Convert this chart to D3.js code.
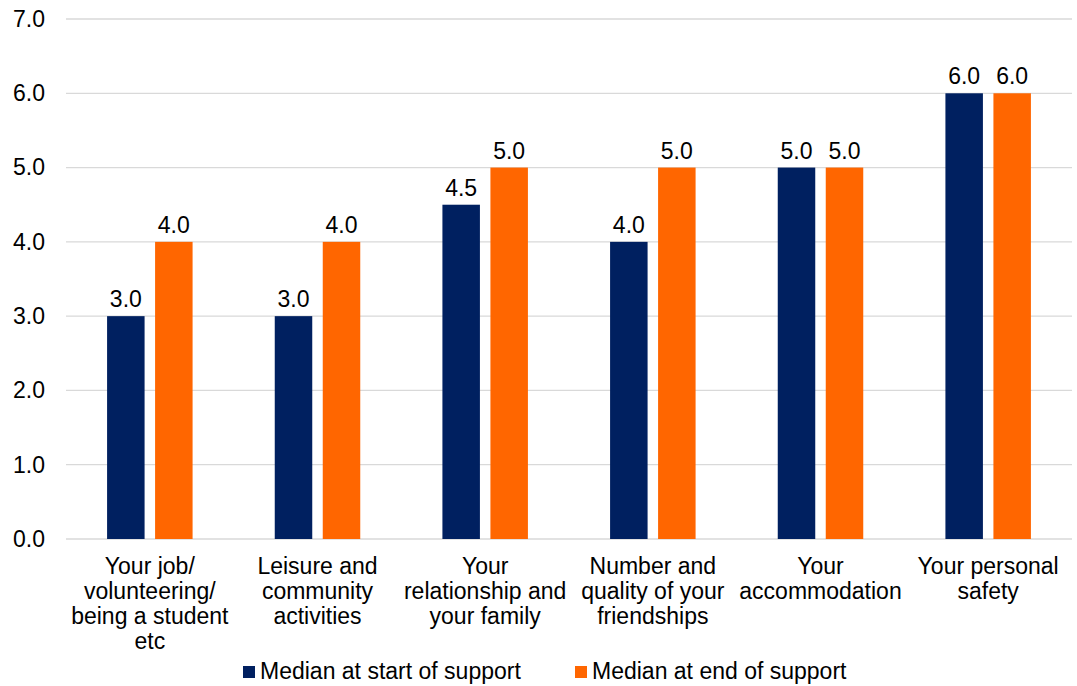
<!DOCTYPE html>
<html>
<head>
<meta charset="utf-8">
<script src="https://cdn.jsdelivr.net/npm/d3@7"></script>
<style>
  html, body { margin: 0; padding: 0; background: #fff; }
  svg { display: block; font-family: "Liberation Sans", Arial, sans-serif; }
</style>
</head>
<body>
<svg id="chart" width="1077" height="686"></svg>
<script>
// Wellbeing domains (label lines) and median scores
const categories = [
  ["Your job/", "volunteering/", "being a student", "etc"],
  ["Leisure and", "community", "activities"],
  ["Your", "relationship and", "your family"],
  ["Number and", "quality of your", "friendships"],
  ["Your", "accommodation"],
  ["Your personal", "safety"]
];
const seriesNames = ["Median at start of support", "Median at end of support"];
const startValues = [3.0, 3.0, 4.5, 4.0, 5.0, 6.0];
const endValues = [4.0, 4.0, 5.0, 5.0, 5.0, 6.0];
const yTicks = [0, 1, 2, 3, 4, 5, 6, 7];
const colors = ["#002060", "#FF6600"];

const svg = d3.select("#chart");
const fontSize = 23;
const margin = { left: 66, right: 5, top: 19, bottom: 147 };
const W = 1077, H = 686;
const plotW = W - margin.left - margin.right;
const plotH = H - margin.top - margin.bottom;

const keys = categories.map((c, i) => "c" + i);
const x0 = d3.scaleBand().domain(keys).range([margin.left, margin.left + plotW]).paddingInner(0).paddingOuter(0);
const y = d3.scaleLinear().domain([0, 7]).range([margin.top + plotH, margin.top]);

// Grid lines
svg.append("g")
  .selectAll("line")
  .data(yTicks)
  .join("line")
  .attr("x1", margin.left)
  .attr("x2", margin.left + plotW)
  .attr("y1", d => y(d))
  .attr("y2", d => y(d))
  .attr("stroke", "#d9d9d9")
  .attr("stroke-width", 1.3);

// Y axis labels
const yAxis = d3.axisLeft(y).tickValues(yTicks).tickFormat(d3.format(".1f")).tickSize(0).tickPadding(21);
const yg = svg.append("g").attr("transform", `translate(${margin.left},0)`).call(yAxis);
yg.select(".domain").remove();
yg.selectAll("text").attr("font-size", fontSize).attr("fill", "#000").attr("font-family", "Liberation Sans, Arial, sans-serif");

// Bars
const barW = 37.5, barGap = 10.5;
const x1 = d3.scaleOrdinal().domain([0, 1]).range([-(barW + barGap / 2), barGap / 2]);
const rows = keys.map((k, i) => ({ key: k, vals: [startValues[i], endValues[i]] }));

const groups = svg.append("g").selectAll("g")
  .data(rows)
  .join("g")
  .attr("transform", d => `translate(${x0(d.key) + x0.bandwidth() / 2},0)`);

groups.selectAll("rect")
  .data(d => d.vals.map((v, s) => ({ v, s })))
  .join("rect")
  .attr("x", d => x1(d.s))
  .attr("width", barW)
  .attr("y", d => y(d.v))
  .attr("height", d => y(0) - y(d.v))
  .attr("fill", d => colors[d.s]);

// Value labels
groups.selectAll("text.val")
  .data(d => d.vals.map((v, s) => ({ v, s })))
  .join("text")
  .attr("class", "val")
  .attr("x", d => x1(d.s) + barW / 2)
  .attr("y", d => y(d.v) - 9)
  .attr("text-anchor", "middle")
  .attr("font-size", fontSize)
  .attr("fill", "#000")
  .text(d => d3.format(".1f")(d.v));

// Category labels
const catG = svg.append("g");
rows.forEach((r, i) => {
  const t = catG.append("text")
    .attr("x", x0(r.key) + x0.bandwidth() / 2)
    .attr("y", y(0) + 35)
    .attr("text-anchor", "middle")
    .attr("font-size", fontSize)
    .attr("fill", "#000");
  categories[i].forEach((line, j) => {
    t.append("tspan")
      .attr("x", x0(r.key) + x0.bandwidth() / 2)
      .attr("dy", j === 0 ? 0 : 25)
      .text(line);
  });
});

// Legend
const legendItems = [
  { name: seriesNames[0], color: colors[0], x: 243 },
  { name: seriesNames[1], color: colors[1], x: 575 }
];
const lg = svg.append("g");
legendItems.forEach(it => {
  lg.append("rect").attr("x", it.x).attr("y", 666).attr("width", 12).attr("height", 12).attr("fill", it.color);
  lg.append("text").attr("x", it.x + 17).attr("y", 679).attr("font-size", fontSize).attr("fill", "#000").text(it.name);
});
</script>
</body>
</html>
